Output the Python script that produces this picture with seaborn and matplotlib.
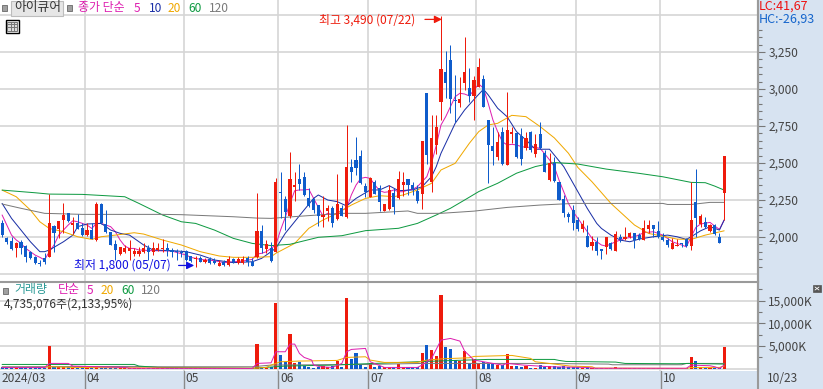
import matplotlib as mpl

mpl.use('Agg')
import matplotlib.pyplot as plt
import matplotlib.patches as mpatches
from matplotlib.lines import Line2D
import seaborn as sns
import numpy as np
import pandas as pd

W, H = 823, 389

# candles
candle_dir = ("bbbrbbbbbb" "rbrrbrbbrb" "rbbbbrrrrr" "rbrrrbbbbb" "brbrbbrbrb"
              "rrbbrbrbrb" "brrbbbbbrr" "brbrbbbbrb" "brrbrrbbbr" "brrrbbbrrb"
              "rrbbbrbrrb" "brbrbbrbbb" "bbbrbrbbrb" "rbrrbbrrbb" "bbrrbbrbrb" "rbbr")
candle_top = [2097, 1991, 1975, 1957, 1966, 1941, 1901, 1867, 1827, 1856,
              2092, 2074, 2110, 2149, 2160, 2097, 2092, 2058, 2047, 2047,
              2223, 2221, 2088, 2036, 1953, 1935, 1923, 1923, 1908, 1908,
              1928, 1928, 1928, 1926, 1919, 1926, 1912, 1908, 1901, 1908,
              1872, 1856, 1860, 1845, 1849, 1838, 1827, 1833, 1853, 1849,
              1849, 1849, 1858, 1833, 2041, 2041, 1951, 1923, 2369, 2302,
              2257, 2392, 2351, 2390, 2405, 2261, 2255, 2216, 2149, 2194,
              2194, 2223, 2198, 2475, 2475, 2520, 2547, 2345, 2401, 2374,
              2329, 2223, 2318, 2295, 2390, 2374, 2392, 2351, 2311, 2649,
              2971, 2667, 2746, 3133, 3117, 3196, 2926, 2933, 3117, 3009,
              3061, 3151, 3068, 2791, 2615, 2642, 2712, 2723, 2712, 2705,
              2683, 2667, 2712, 2629, 2696, 2566, 2498, 2503, 2373, 2254,
              2155, 2182, 2115, 2088, 2006, 1968, 1968, 1919, 1997, 1957,
              2020, 1997, 1997, 2024, 2024, 2013, 2058, 2081, 2081, 2040,
              2002, 1979, 1957, 1946, 1957, 1986, 2115, 2238, 2142, 2103,
              2081, 2081, 2002, 2547]
candle_bot = [2013, 1964, 1921, 1926, 1926, 1867, 1856, 1822, 1815, 1833,
              1867, 2025, 2052, 2115, 2110, 2083, 2054, 2013, 2013, 1986,
              1980, 2092, 2031, 1946, 1912, 1885, 1901, 1908, 1885, 1885,
              1901, 1901, 1901, 1912, 1917, 1908, 1901, 1899, 1894, 1845,
              1840, 1849, 1833, 1833, 1827, 1822, 1806, 1810, 1810, 1829,
              1822, 1827, 1833, 1806, 1867, 1924, 1919, 1838, 1901, 2295,
              2167, 2142, 2336, 2358, 2284, 2210, 2183, 2144, 2138, 2176,
              2097, 2120, 2144, 2133, 2441, 2469, 2363, 2304, 2273, 2291,
              2239, 2178, 2187, 2201, 2266, 2351, 2351, 2322, 2243, 2291,
              2554, 2374, 2622, 2915, 3039, 2930, 2921, 2903, 3043, 2953,
              2953, 3016, 2881, 2622, 2581, 2539, 2491, 2487, 2696, 2543,
              2527, 2604, 2588, 2561, 2599, 2442, 2385, 2381, 2250, 2160,
              2133, 2092, 2051, 2051, 1934, 1939, 1907, 1907, 1930, 1919,
              1907, 1984, 1986, 1997, 1979, 1986, 1979, 2054, 2051, 2002,
              1979, 1946, 1919, 1941, 1950, 1939, 1939, 2126, 2088, 2070,
              2042, 2018, 1957, 2295]
candle_high = [2115, 1998, 1998, 1966, 1980, 1946, 1908, 1872, 1845, 1890,
               2290, 2081, 2110, 2232, 2164, 2133, 2155, 2092, 2092, 2092,
               2234, 2227, 2182, 2036, 1980, 1935, 1946, 1980, 1923, 1935,
               1957, 1946, 1968, 1962, 1984, 1962, 1923, 1917, 1912, 1912,
               1872, 1872, 1872, 1856, 1862, 1858, 1845, 1845, 1872, 1858,
               1862, 1872, 1872, 1856, 2295, 2081, 1980, 1968, 2401, 2437,
               2277, 2577, 2437, 2493, 2441, 2329, 2261, 2216, 2277, 2216,
               2210, 2426, 2216, 2757, 2527, 2678, 2588, 2363, 2408, 2385,
               2351, 2223, 2351, 2329, 2448, 2441, 2392, 2374, 2351, 2649,
               2971, 2822, 2822, 3490, 3257, 3298, 3095, 3079, 3349, 3140,
               3090, 3208, 3095, 2791, 2746, 2712, 2746, 2982, 2746, 2712,
               2734, 2712, 2719, 2696, 2780, 2588, 2566, 2543, 2373, 2283,
               2171, 2216, 2133, 2115, 2081, 2006, 1997, 1919, 1997, 1968,
               2042, 2018, 2065, 2036, 2024, 2024, 2115, 2115, 2081, 2108,
               2029, 1991, 1991, 1984, 1961, 1991, 2373, 2459, 2155, 2133,
               2088, 2085, 2029, 2547]
candle_low = [1998, 1953, 1912, 1867, 1885, 1833, 1849, 1817, 1805, 1815,
              1862, 1901, 1991, 2025, 2103, 2020, 2052, 2007, 2007, 1984,
              1975, 2088, 2025, 1946, 1845, 1878, 1894, 1845, 1872, 1872,
              1890, 1845, 1878, 1908, 1901, 1872, 1862, 1845, 1862, 1836,
              1831, 1800, 1829, 1826, 1817, 1815, 1805, 1803, 1805, 1822,
              1817, 1817, 1804, 1803, 1855, 1894, 1890, 1830, 1897, 2126,
              2047, 2126, 2243, 2318, 2279, 2201, 2160, 2074, 2070, 2110,
              2070, 2115, 2142, 2126, 2369, 2419, 2356, 2273, 2268, 2291,
              2178, 2176, 2183, 2153, 2255, 2279, 2284, 2284, 2227, 2189,
              2494, 2307, 2561, 2791, 2937, 2836, 2780, 2881, 2994, 2915,
              2791, 3012, 2881, 2363, 2487, 2521, 2487, 2487, 2633, 2532,
              2487, 2588, 2577, 2543, 2593, 2442, 2381, 2374, 2250, 2133,
              2103, 2047, 2042, 2036, 1930, 1912, 1878, 1851, 1885, 1912,
              1907, 1968, 1979, 1991, 1928, 1979, 1979, 2029, 2002, 1995,
              1973, 1934, 1916, 1939, 1930, 1934, 1912, 1997, 2065, 2058,
              2036, 2013, 1957, 2115]

# moving averages, (candle number, price) read at points along each line
ma5_idx = list(range(33)) + [36, 39, 40, 42, 45, 47, 49, 51, 53] + list(range(54, 122)) + [
    123, 124, 125, 127, 128, 130, 132, 134, 136, 138, 140, 142, 144, 145, 146, 147, 148, 150, 151, 152, 153]
ma5 = [2149, 2081, 2013, 1980, 1957, 1923, 1901, 1878, 1863, 1845, 1901, 1946, 2013, 2047, 2081, 2110, 2103,
       2092, 2081, 2058, 2092, 2092, 2081, 2070, 2036, 1980, 1939, 1923, 1923, 1912, 1912, 1908, 1908,
       1905, 1878, 1863, 1849, 1840, 1827, 1833, 1838, 1849,
       1885, 1890, 1901, 1924, 1946, 2047, 2133, 2228, 2313, 2318, 2318, 2322, 2261, 2201, 2142, 2160, 2149,
       2160, 2183, 2194, 2284, 2351, 2396, 2403, 2396, 2351, 2313, 2302, 2306, 2318, 2306, 2306, 2318, 2322,
       2340, 2374, 2408, 2500, 2620, 2757, 2813, 2881, 2948, 2971, 2966, 2953, 2994, 3034, 3005, 2903, 2791,
       2712, 2644, 2622, 2626, 2622, 2611, 2606, 2606, 2606, 2599, 2561, 2521, 2476, 2385, 2306, 2227, 2171,
       2081, 2036, 1991, 1946, 1939, 1968, 1991, 2002, 2029, 2036, 2013, 1968, 1946, 1934, 2002, 2065, 2088,
       2099, 2074, 2052, 2115]
ma10_idx = [0, 2, 4, 6, 8, 9, 10, 13, 15, 16, 18, 21, 23, 25, 27, 30, 32, 36, 39, 42, 45, 49, 53, 55,
            58, 60, 62, 64, 66, 67, 69, 71, 73, 75, 78, 80, 82, 84, 87, 89, 91, 92, 93, 94, 96, 98, 100,
            102, 103, 105, 107, 109, 111, 113, 116, 117, 119, 121, 123, 124, 126, 127, 129, 131, 133,
            135, 138, 141, 143, 145, 146, 148, 150, 152, 153]
ma10 = [2227, 2126, 2047, 1968, 1901, 1901, 1912, 1968, 2013, 2070, 2088, 2092, 2047, 2025, 2013, 1946,
        1912, 1908, 1901, 1878, 1845, 1827, 1833, 1856, 1924, 2025, 2104, 2183, 2261, 2284, 2250, 2239,
        2210, 2261, 2318, 2318, 2347, 2313, 2318, 2340, 2408, 2476, 2566, 2633, 2768, 2858, 2930, 2998,
        2960, 2870, 2813, 2712, 2656, 2593, 2593, 2554, 2476, 2363, 2250, 2193, 2092, 2058, 2013, 1979,
        1968, 1986, 2002, 2013, 2002, 1984, 2002, 2042, 2070, 2047, 2115]
ma20_idx = [0, 3, 6, 8, 10, 13, 16, 19, 21, 24, 28, 30, 34, 38, 42, 46, 49, 53, 57, 58, 62, 65, 68, 71,
            74, 77, 80, 83, 85, 88, 91, 93, 96, 99, 101, 103, 105, 108, 111, 114, 117, 120, 122, 125, 129,
            134, 137, 140, 143, 146, 149, 153]
ma20 = [2317, 2272, 2182, 2103, 2058, 2036, 2002, 1984, 2002, 2013, 2029, 2020, 1980, 1946, 1901, 1872,
        1863, 1863, 1867, 1890, 1957, 2059, 2115, 2160, 2216, 2261, 2279, 2273, 2284, 2318, 2363, 2453,
        2498, 2633, 2712, 2757, 2768, 2822, 2813, 2746, 2670, 2566, 2470, 2373, 2227, 2081, 2024, 2006,
        1986, 1984, 2013, 2042]
ma60_idx = [0, 7, 10, 17, 26, 29, 34, 38, 41, 45, 49, 53, 57, 61, 67, 72, 77, 84, 88, 92, 95, 98, 101, 105,
            109, 113, 117, 122, 128, 135, 140, 146, 149, 151, 153]
ma60 = [2317, 2299, 2290, 2288, 2272, 2227, 2149, 2103, 2092, 2047, 1991, 1957, 1942, 1951, 1998, 2009, 2043,
        2059, 2092, 2149, 2194, 2250, 2307, 2363, 2431, 2476, 2503, 2493, 2459, 2430, 2407, 2369, 2367, 2344,
        2317]
ma120_idx = [0, 4, 9, 17, 34, 38, 49, 54, 57, 62, 67, 72, 77, 86, 88, 93, 100, 107, 114, 121, 140, 141, 146,
             150, 153]
ma120 = [2223, 2194, 2160, 2153, 2153, 2151, 2137, 2128, 2126, 2138, 2149, 2160, 2160, 2176, 2160, 2160, 2175,
         2200, 2216, 2227, 2227, 2220, 2220, 2234, 2234]

# volume in thousands of shares
volume = [300, 200, 250, 150, 200, 250, 150, 200, 150, 220,
          4980, 400, 320, 400, 420, 250, 220, 300, 200, 220,
          320, 260, 180, 200, 160, 150, 140, 160, 120, 110,
          130, 110, 120, 100, 100, 90, 90, 80, 80, 120,
          80, 100, 70, 70, 60, 70, 60, 60, 90, 50,
          60, 50, 60, 70, 5420, 300, 250, 300, 14523, 3000,
          1530, 7600, 1300, 1530, 650, 430, 200, 430, 580, 280,
          580, 1750, 430, 15624, 2120, 3500, 940, 430, 1160, 430,
          580, 280, 280, 280, 940, 280, 280, 280, 280, 3500,
          5200, 4100, 2850, 16200, 4800, 4320, 1900, 1750, 3880, 1160,
          2040, 1160, 1530, 1000, 1000, 800, 800, 3220, 580, 580,
          280, 580, 200, 200, 800, 430, 600, 500, 400, 500,
          450, 350, 300, 250, 350, 200, 250, 200, 250, 180,
          300, 150, 200, 150, 180, 200, 250, 200, 180, 150,
          200, 150, 120, 100, 80, 100, 2486, 1680, 350, 250,
          200, 200, 250, 4735]
vol_ma5_idx = [0, 9, 10, 14, 15, 26, 27, 53, 54, 57, 58, 60, 61, 62, 63, 64, 65.6, 66, 67.4, 70, 72, 73, 74, 77,
               78, 81, 88, 89, 91, 93, 95, 97, 98, 100, 102, 106, 107, 110.4, 116, 123.6, 125.7, 145, 146, 150,
               151, 152, 153]
vol_ma5 = [260, 260, 1164, 1164, 575, 280, 100, 60, 1164, 1300, 3733, 3733, 5420, 5420, 3367, 2485, 1900, 800,
           430, 280, 1164, 3733, 4245, 4467, 1530, 280, 280, 800, 2265, 6300, 6670, 6080, 3880, 1900, 1530,
           800, 1160, 800, 430, 280, 100, 100, 800, 650, 430, 60, 800]
vol_ma20_idx = [0, 9, 10, 15, 28, 53, 56, 57, 59, 63, 71, 73, 77, 78, 81, 88, 90, 93.5, 99, 100, 108, 112, 113,
                116, 120.4, 125, 125.7, 145, 146, 152, 153]
vol_ma20 = [280, 280, 430, 280, 200, 97, 280, 800, 1530, 1680, 1825, 2485, 2630, 1900, 1385, 1385, 1900, 2190,
            2410, 2700, 2925, 2265, 1530, 1160, 575, 430, 136, 60, 280, 280, 575]
vol_ma60_idx = [0, 28, 29, 33, 53, 60, 70, 88, 96, 103, 117, 118, 119.5, 130, 132, 143, 145.5, 153]
vol_ma60 = [940, 940, 575, 280, 100, 575, 800, 1530, 1825, 2045, 2045, 1825, 1600, 1460, 1160, 1090, 1160, 1015]
vol_ma120_idx = [0, 28, 33, 53, 57, 77, 89, 114, 128.5, 129.3, 144, 145, 153]
vol_ma120 = [430, 500, 430, 430, 800, 940, 1160, 1160, 1015, 870, 870, 1160, 1160]

# first candle of each month
month_first = [18, 39, 59, 78, 101, 122, 140]
month_labels = ['04', '05', '06', '07', '08', '09', '10']
first_label = '2024/03'
last_label = '10/23'
price_ticks = [2000, 2250, 2500, 2750, 3000, 3250]
vol_ticks = [0, 5000, 10000, 15000]

RED = '#ee1b0c'
BLUE = '#0f5ccb'
C_MA5 = '#de1fb0'
C_MA10 = '#1a2fa6'
C_MA20 = '#f0a800'
C_MA60 = '#0f9a42'
C_MA120 = '#7a7a7a'
GRID = '#d5d5d5'
EDGE = '#9a9a9a'
PANEL = '#d7e3f1'
KR = ['Noto Sans CJK KR', 'DejaVu Sans']
LINE_W = 0.72  # one pixel


def px_text(x, y, s, color='#444444', size=8.6, **kw):
    # position in picture pixels, y is the text's middle
    return fig.text(x / W, 1 - y / H, s, color=color, fontsize=size, va='center', ha='left', **kw)


def px_rect(x, y, w, h, **kw):
    fig.add_artist(mpatches.Rectangle((x / W, 1 - (y + h) / H), w / W, h / H,
                                      transform=fig.transFigure, **kw))


def px_line(x0, y0, x1, y1, **kw):
    fig.add_artist(Line2D([x0 / W, x1 / W], [1 - y0 / H, 1 - y1 / H], transform=fig.transFigure, **kw))


def style_right_axis(ax, ticks, labels, minors):
    ax.yaxis.tick_right()
    ax.set_yticks(ticks)
    ax.set_yticklabels(labels, color='#444444', fontsize=8.6)
    ax.set_yticks(minors, minor=True)
    ax.tick_params(axis='y', which='major', length=5, width=0.8, color='#777777', pad=2.5)
    ax.tick_params(axis='y', which='minor', length=3, width=0.8, color='#777777')
    ax.tick_params(axis='x', which='both', length=0)
    for name in ['left', 'top', 'bottom']:
        ax.spines[name].set_visible(False)
    ax.spines['right'].set_color(EDGE)
    ax.spines['right'].set_linewidth(1.5)
    ax.set_xlabel('')
    ax.set_ylabel('')


sns.set_theme(style='white')
plt.rcParams['font.family'] = KR

fig = plt.figure(figsize=(W / 100, H / 100), dpi=100, facecolor=PANEL)
ax = fig.add_axes([0, 1 - 281 / H, 758 / W, 281 / H])
ax_vol = fig.add_axes([0, 1 - 371 / H, 758 / W, 89 / H])

idx = np.arange(len(candle_top))
top = np.array(candle_top)
bot = np.array(candle_bot)
colors = [RED if d == 'r' else BLUE for d in candle_dir]

# price panel
for label, xs, ys, col in [('5', ma5_idx, ma5, C_MA5), ('10', ma10_idx, ma10, C_MA10),
                           ('20', ma20_idx, ma20, C_MA20), ('60', ma60_idx, ma60, C_MA60),
                           ('120', ma120_idx, ma120, C_MA120)]:
    sns.lineplot(x=xs, y=ys, color=col, linewidth=LINE_W, estimator=None, errorbar=None, ax=ax, zorder=2)
ax.vlines(idx, candle_low, candle_high, colors=colors, lw=LINE_W, zorder=3)
ax.bar(idx, np.maximum(top - bot, 7), bottom=bot, width=0.66, color=colors, lw=0, zorder=3, snap=True)

month_x = np.array(month_first) - 0.5
for a in [ax, ax_vol]:
    a.set_xlim(-0.445, 160.17)
    a.set_facecolor('white')
    a.vlines(month_x, 0, 1, transform=a.get_xaxis_transform(), color=GRID, lw=1.2, zorder=1)
    a.set_xticks([])

ax.set_ylim(1703, 3601)
ax.hlines(price_ticks + [1750, 3500], 0, 1, transform=ax.get_yaxis_transform(), color=GRID, lw=1.2, zorder=1)
style_right_axis(ax, price_ticks, [f'{t:,}' for t in price_ticks],
                 [p for p in range(1800, 3450, 50) if p not in price_ticks])

ax.annotate('', xy=(93.2, 3470), xytext=(89.6, 3470),
            arrowprops=dict(arrowstyle='-|>', color=RED, lw=0.9, shrinkA=0, shrinkB=0, mutation_scale=11), zorder=5)
ax.annotate('', xy=(40.7, 1808), xytext=(37.4, 1808),
            arrowprops=dict(arrowstyle='-|>', color='#1010e0', lw=0.9, shrinkA=0, shrinkB=0, mutation_scale=11),
            zorder=5)

# volume panel
vol_df = pd.DataFrame({'i': idx, 'vol': volume, 'dir': list(candle_dir)})
sns.barplot(data=vol_df, x='i', y='vol', hue='dir', palette={'r': RED, 'b': BLUE}, native_scale=True,
            dodge=False, width=0.66, saturation=1, errorbar=None, legend=False, ax=ax_vol, zorder=3,
            linewidth=0, snap=True)
for xs, ys, col in [(vol_ma120_idx, vol_ma120, C_MA120), (vol_ma60_idx, vol_ma60, C_MA60),
                    (vol_ma20_idx, vol_ma20, C_MA20), (vol_ma5_idx, vol_ma5, C_MA5)]:
    sns.lineplot(x=xs, y=ys, color=col, linewidth=LINE_W, estimator=None, errorbar=None, ax=ax_vol, zorder=4)
ax_vol.set_xlim(-0.445, 160.17)
ax_vol.set_ylim(-506, 19100)
ax_vol.hlines(vol_ticks, 0, 1, transform=ax_vol.get_yaxis_transform(), color=GRID, lw=1.2, zorder=1)
style_right_axis(ax_vol, vol_ticks[1:], [f'{t:,}K' for t in vol_ticks[1:]], [2500, 7500, 12500, 17500])
ax_vol.set_xticks([])
ax_vol.spines['top'].set_visible(True)
ax_vol.spines['top'].set_color(EDGE)
ax_vol.spines['top'].set_linewidth(1.5)

# month strip
px_line(758, 0, 758, H, color=EDGE, lw=1.5)
for m, lab in zip(month_x, month_labels):
    xp = 2.1 + 4.72 * m
    px_line(xp, 371, xp, H, color='#8a8a8a', lw=1)
    px_text(xp + 2, 379, lab)
px_text(2, 379, first_label)
px_text(767, 379, last_label)

# header
px_rect(2, 5, 5, 6, fc='#a0a0a0', ec='#777777', lw=0.7)
px_rect(10.5, 1.5, 53, 14, fc='#e6e6e6', ec='#bdbdbd', lw=0.8)
px_text(14, 8, '아이큐어', color='#333333', size=9.2)
px_rect(67, 5, 5, 6, fc='#a0a0a0', ec='#777777', lw=0.7)
px_text(78, 8, '종가 단순', color=C_MA5)
px_text(134, 8, '5', color=C_MA5)
px_text(149, 8, '10', color=C_MA10)
px_text(168, 8, '20', color=C_MA20)
px_text(188, 8, '60', color=C_MA60)
px_text(209, 8, '120', color=C_MA120)

# small table icon
px_rect(5.5, 19.5, 13, 13, fc='white', ec='black', lw=1)
px_rect(7.5, 21.5, 9, 9, fc='#dddddd', ec='#777777', lw=0.7)
for xp in [10.5, 13.5]:
    px_line(xp, 21.5, xp, 30.5, color='#777777', lw=0.7)
px_line(7.5, 24, 16.5, 24, color='#777777', lw=0.7)
px_line(7.5, 27, 16.5, 27, color='#777777', lw=0.7)

px_text(759, 6.5, 'LC:41,67', color='#ee1111', size=9)
px_text(759, 19, 'HC:-26,93', color='#1565cc', size=9)

px_text(319, 20, '최고 3,490 (07/22)', color=RED)
px_text(74, 265, '최저 1,800 (05/07)', color='#1010e0')

# volume header
px_rect(3, 287.5, 5, 6, fc='#a0a0a0', ec='#777777', lw=0.7)
px_text(14, 290, '거래량', color='#2b9a96')
px_text(58, 290, '단순', color=C_MA5)
px_text(87, 290, '5', color=C_MA5)
px_text(101, 290, '20', color=C_MA20)
px_text(121, 290, '60', color=C_MA60)
px_text(141, 290, '120', color=C_MA120)
px_text(4, 304, '4,735,076주(2,133,95%)', color='#333333')

# small button in the volume panel corner
px_rect(813, 285, 8, 7, fc='#555555', ec='#555555', lw=0.5)
px_line(815, 287, 819, 290, color='white', lw=0.6)
px_line(815, 290, 819, 287, color='white', lw=0.6)

fig.savefig('out.png', dpi=100, facecolor=PANEL)
